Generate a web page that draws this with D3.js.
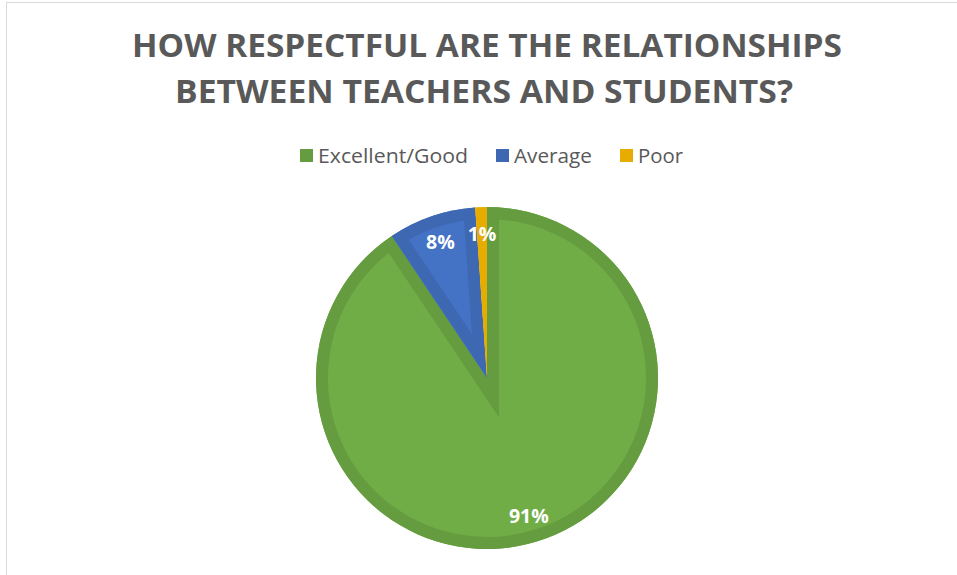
<!DOCTYPE html>
<html>
<head>
<meta charset="utf-8">
<script src="https://cdn.jsdelivr.net/npm/d3@7"></script>
<style>
  html, body { margin: 0; padding: 0; background: #fff; }
  svg { display: block; }
</style>
</head>
<body>
<svg id="chart" width="957" height="575"></svg>
<script>
const titleLines = ["HOW RESPECTFUL ARE THE RELATIONSHIPS", "BETWEEN TEACHERS AND STUDENTS?"];
const categories = ["Excellent/Good", "Average", "Poor"];
const values = [90.6, 8.3, 1.1];
const labels = ["91%", "8%", "1%"];
const fillColors = ["#70AD47", "#4472C4", "#FFC000"];
const edgeColors = ["#659C40", "#3F68B3", "#E6AD00"];

const svg = d3.select("#chart");

// chart frame
svg.append("rect").attr("x", 6.5).attr("y", 2.5).attr("width", 970).attr("height", 600)
  .attr("fill", "none").attr("stroke", "#d9d9d9").attr("stroke-width", 1);

// title
const titleSpecs = [{y: 57, len: 710, cx: 487}, {y: 103, len: 618, cx: 484}];
titleLines.forEach((t, i) => {
  svg.append("text")
    .attr("x", titleSpecs[i].cx).attr("y", titleSpecs[i].y)
    .attr("text-anchor", "middle")
    .attr("font-family", "'Open Sans', sans-serif")
    .attr("font-weight", "bold")
    .attr("font-size", 32)
    .attr("fill", "#595959")
    .attr("textLength", titleSpecs[i].len)
    .attr("lengthAdjust", "spacingAndGlyphs")
    .text(t);
});

// legend
const legendX = [300, 496, 620];
const legendLen = [150, 78, 45];
const legend = svg.append("g");
categories.forEach((c, i) => {
  legend.append("rect").attr("x", legendX[i]).attr("y", 149).attr("width", 13).attr("height", 13)
    .attr("fill", edgeColors[i]);
  legend.append("text").attr("x", legendX[i] + 18).attr("y", 163)
    .attr("font-family", "'Open Sans', sans-serif").attr("font-size", 20.5)
    .attr("fill", "#595959")
    .attr("textLength", legendLen[i]).attr("lengthAdjust", "spacingAndGlyphs")
    .text(c);
});

// pie
const cx = 487, cy = 378, r = 171, border = 12;
const pie = d3.pie().sort(null).value(d => d)(values);
const arc = d3.arc().innerRadius(0).outerRadius(r);
const labelArc = d3.arc().innerRadius(144).outerRadius(144);
const g = svg.append("g").attr("transform", `translate(${cx},${cy})`);
const defs = svg.append("defs");

pie.forEach((p, i) => {
  const path = arc(p);
  defs.append("clipPath").attr("id", "clip" + i).append("path").attr("d", path);
  g.append("path").attr("d", path).attr("fill", fillColors[i]);
  g.append("path").attr("d", path).attr("fill", "none")
    .attr("stroke", edgeColors[i]).attr("stroke-width", border * 2)
    .attr("stroke-linejoin", "miter")
    .attr("clip-path", `url(#clip${i})`);
});

pie.forEach((p, i) => {
  const [lx, ly] = labelArc.centroid(p);
  g.append("text").attr("x", lx).attr("y", ly).attr("dy", "0.36em")
    .attr("text-anchor", "middle")
    .attr("font-family", "'Open Sans', sans-serif").attr("font-weight", "bold")
    .attr("font-size", 19.5).attr("fill", "#ffffff")
    .text(labels[i]);
});
</script>
</body>
</html>
